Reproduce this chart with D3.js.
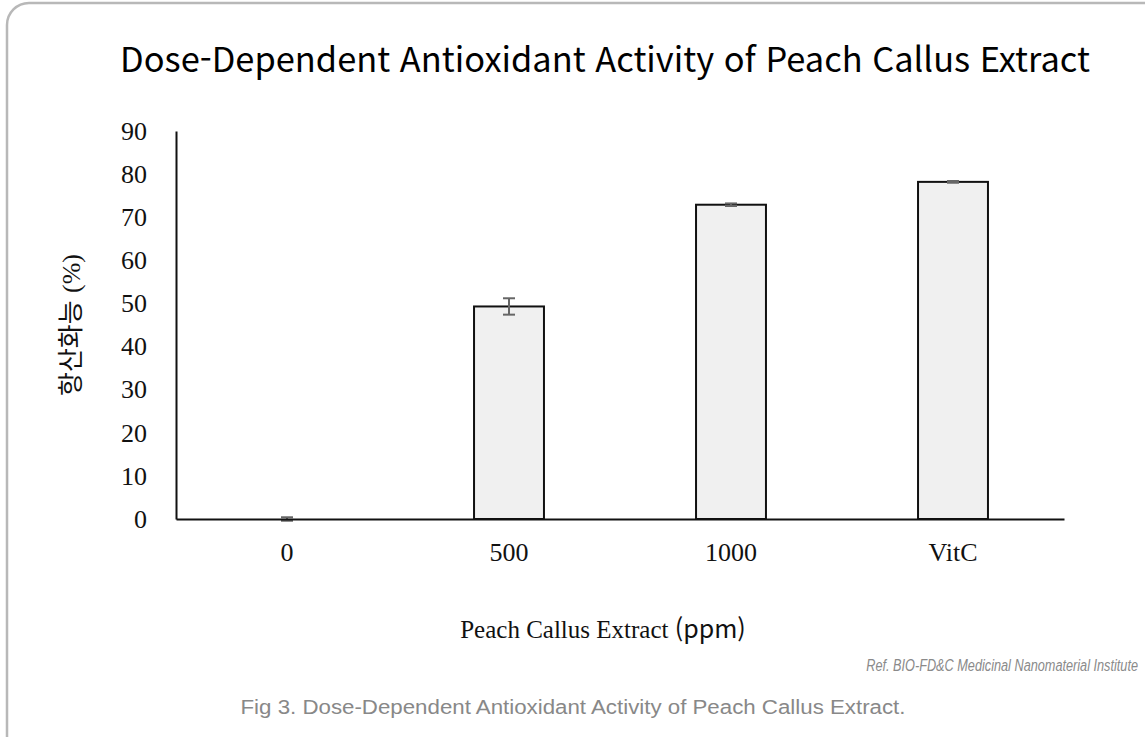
<!DOCTYPE html>
<html lang="ko">
    <head>
        <meta charset="utf-8">
        <script type="text/javascript" src="https://cdn.jsdelivr.net/npm/d3@7"></script>
        <title>Peach Callus Extract</title>
        <style type="text/css">
            body { margin: 0; background: #fff; }
        </style>
    </head>
    <body>
        <script type="text/javascript">
            var w = 1145;
            var h = 737;

            // data
            var categories = ["0", "500", "1000", "VitC"];
            var values = [0, 49.3, 72.9, 78.2];
            var errors = [0.4, 1.9, 0.3, 0.2];
            var yTicks = [0, 10, 20, 30, 40, 50, 60, 70, 80, 90];

            var svg = d3.select("body")
                        .append("svg")
                        .attr("width", w)
                        .attr("height", h);

            // rounded frame, runs off the right and bottom edges
            svg.append("rect")
                .attr("x", 7)
                .attr("y", 3)
                .attr("width", 1200)
                .attr("height", 760)
                .attr("rx", 22)
                .attr("fill", "none")
                .attr("stroke", "#b8b8b8")
                .attr("stroke-width", 2.5);

            svg.append("text")
                .attr("x", 120)
                .attr("y", 72)
                .attr("font-family", "'Noto Sans CJK KR', 'Noto Sans', sans-serif")
                .attr("font-size", "34px")
                .attr("fill", "#000")
                .attr("textLength", 970)
                .attr("lengthAdjust", "spacingAndGlyphs")
                .text("Dose-Dependent Antioxidant Activity of Peach Callus Extract");

            // plot area (named to avoid window.top)
            var pLeft = 176, pRight = 1064, pTop = 131, pBottom = 519;

            var xScale = d3.scaleBand()
                            .domain(categories)
                            .range([pLeft, pRight])
                            .paddingInner(0.685)
                            .paddingOuter(0.3425);

            var yScale = d3.scaleLinear()
                            .domain([0, 90])
                            .range([pBottom, pTop]);

            // bars
            svg.selectAll("rect.bar")
                .data(values)
                .enter()
                .append("rect")
                .attr("class", "bar")
                .attr("x", function(d, i){ return xScale(categories[i]); })
                .attr("y", function(d){ return yScale(d); })
                .attr("width", xScale.bandwidth())
                .attr("height", function(d){ return pBottom - yScale(d); })
                .attr("fill", "#f0f0f0")
                .attr("stroke", function(d){ return d > 0 ? "#111" : "none"; })
                .attr("stroke-width", 2);

            // error bars
            var eb = svg.selectAll("g.err")
                .data(values)
                .enter()
                .append("g")
                .attr("class", "err")
                .attr("stroke", "#666")
                .attr("stroke-width", 2);

            eb.append("line")
                .attr("x1", function(d, i){ return xScale(categories[i]) + xScale.bandwidth()/2; })
                .attr("x2", function(d, i){ return xScale(categories[i]) + xScale.bandwidth()/2; })
                .attr("y1", function(d, i){ return yScale(d + errors[i]); })
                .attr("y2", function(d, i){ return yScale(d - errors[i]); });

            [1, -1].forEach(function(s){
                eb.append("line")
                    .attr("x1", function(d, i){ return xScale(categories[i]) + xScale.bandwidth()/2 - 6; })
                    .attr("x2", function(d, i){ return xScale(categories[i]) + xScale.bandwidth()/2 + 6; })
                    .attr("y1", function(d, i){ return yScale(d + s*errors[i]); })
                    .attr("y2", function(d, i){ return yScale(d + s*errors[i]); });
            });

            // axes
            var yAxis = d3.axisLeft(yScale).tickValues(yTicks).tickSize(0).tickPadding(29);
            var gy = svg.append("g")
                .attr("transform", "translate(" + pLeft + ",0)")
                .call(yAxis);
            gy.select(".domain").attr("stroke", "#111").attr("stroke-width", 2);
            gy.selectAll("text")
                .attr("font-family", "'Liberation Serif', 'Times New Roman', serif")
                .attr("font-size", "26px")
                .attr("fill", "#111");

            var xAxis = d3.axisBottom(xScale).tickSize(0).tickPadding(24);
            var gx = svg.append("g")
                .attr("transform", "translate(0," + pBottom + ")")
                .call(xAxis);
            gx.select(".domain").attr("stroke", "#111").attr("stroke-width", 2);
            gx.selectAll("text")
                .attr("font-family", "'Liberation Serif', 'Times New Roman', serif")
                .attr("font-size", "26px")
                .attr("fill", "#111");

            // y axis title
            var yt = svg.append("text")
                .attr("transform", "translate(80,325) rotate(-90)")
                .attr("text-anchor", "middle")
                .attr("font-size", "26px")
                .attr("fill", "#111");
            yt.append("tspan")
                .attr("font-family", "'Noto Sans CJK KR', sans-serif")
                .text("항산화능 ");
            yt.append("tspan")
                .attr("font-family", "'Liberation Serif', serif")
                .text("(%)");

            // x axis title
            var xt = svg.append("text")
                .attr("x", 603)
                .attr("y", 638)
                .attr("text-anchor", "middle")
                .attr("font-size", "25px")
                .attr("fill", "#111");
            xt.append("tspan")
                .attr("font-family", "'Liberation Serif', serif")
                .text("Peach Callus Extract ");
            xt.append("tspan")
                .attr("font-family", "'Noto Sans CJK KR', sans-serif")
                .text("(ppm)");

            // narrow italic reference note
            svg.append("text")
                .attr("transform", "translate(1138,671) scale(0.77,1)")
                .attr("text-anchor", "end")
                .attr("font-family", "'Liberation Sans', Arial, sans-serif")
                .attr("font-style", "italic")
                .attr("font-size", "16.5px")
                .attr("fill", "#8a8a8a")
                .text("Ref. BIO-FD&C Medicinal Nanomaterial Institute");

            svg.append("text")
                .attr("x", 573)
                .attr("y", 714)
                .attr("text-anchor", "middle")
                .attr("font-family", "'Liberation Sans', Arial, sans-serif")
                .attr("font-size", "20px")
                .attr("fill", "#888")
                .attr("textLength", 665)
                .attr("lengthAdjust", "spacingAndGlyphs")
                .text("Fig 3. Dose-Dependent Antioxidant Activity of Peach Callus Extract.");
        </script>
    </body>
</html>
